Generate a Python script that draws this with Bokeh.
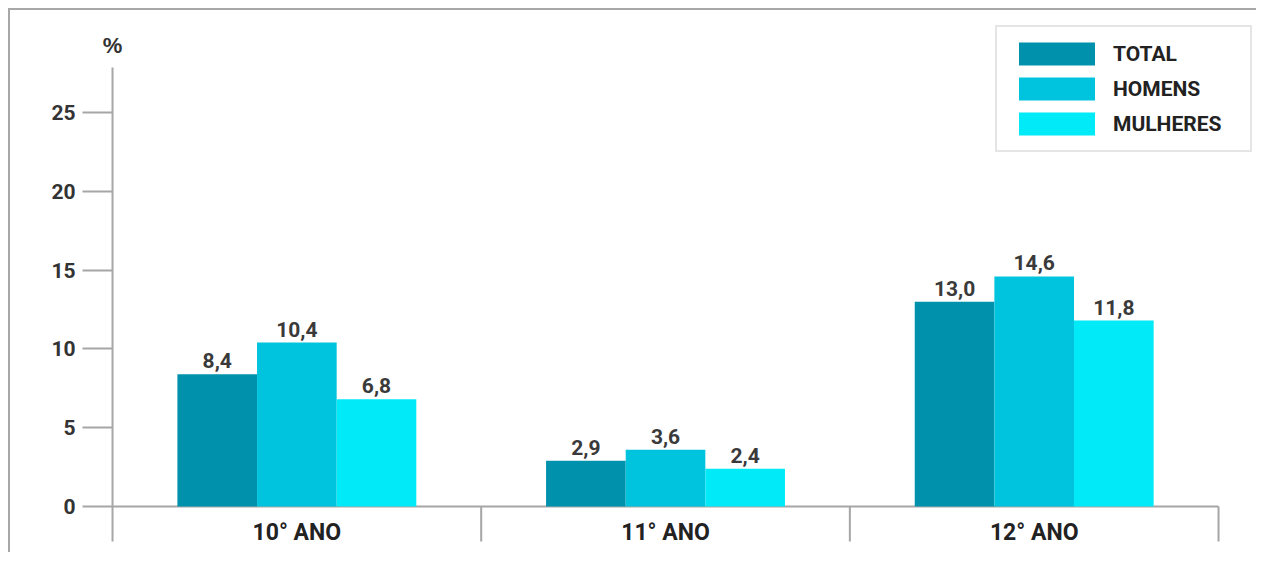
from bokeh.plotting import figure
from bokeh.models import Range1d, FixedTicker, ColumnDataSource
from bokeh.embed import file_html
from bokeh.resources import INLINE
from bokeh.core.properties import value

categories = ["10° ANO", "11° ANO", "12° ANO"]
series = ["TOTAL", "HOMENS", "MULHERES"]
total = [8.4, 2.9, 13.0]
homens = [10.4, 3.6, 14.6]
mulheres = [6.8, 2.4, 11.8]
y_ticks = [0, 5, 10, 15, 20, 25]
y_unit = "%"

colors = ["#0092AC", "#00C4DE", "#00EAF7"]
FONT = "Roboto"
AXIS_COLOR = "#a6a6a6"
Y_AXIS_TOP = 27.86
SEP_BOTTOM = -2.22

p = figure(width=1248, height=544, output_backend="svg", toolbar_location=None, tools="",
           x_range=Range1d(-0.0326, 3.103), y_range=Range1d(-2.665, 31.35),
           min_border_left=90, min_border_top=2, min_border_bottom=6, min_border_right=2,
           x_axis_location=None)
p.styles = {"border-top": "2px solid #a8a8a8", "border-left": "2px solid #a8a8a8",
            "margin-top": "8px", "margin-left": "8px"}
p.outline_line_color = None
p.grid.grid_line_color = None
p.background_fill_color = "white"
p.border_fill_color = "white"

ax = p.yaxis[0]
ax.ticker = FixedTicker(ticks=y_ticks)
ax.major_tick_out = 18
ax.major_tick_in = 12
ax.minor_tick_out = 0
ax.minor_tick_in = 0
ax.axis_line_color = None
ax.major_tick_line_color = AXIS_COLOR
ax.major_tick_line_width = 2
ax.major_label_standoff = 7
ax.major_label_text_font = FONT
ax.major_label_text_font_style = "bold"
ax.major_label_text_font_size = "21px"
ax.major_label_text_color = "#333333"

n = len(categories)
# y axis line (extends down to the separator length)
p.segment(x0=[0], y0=[SEP_BOTTOM], x1=[0], y1=[Y_AXIS_TOP], line_color=AXIS_COLOR, line_width=2)
# x axis baseline and category separators
p.segment(x0=[0], y0=[0], x1=[n], y1=[0], line_color=AXIS_COLOR, line_width=2)
p.segment(x0=list(range(1, n + 1)), y0=[0] * n, x1=list(range(1, n + 1)), y1=[SEP_BOTTOM] * n,
          line_color=AXIS_COLOR, line_width=2)

offsets = [-0.216, 0.0, 0.216]
for name, vals, col, off in zip(series, [total, homens, mulheres], colors, offsets):
    xs = [i + 0.5 + off for i in range(n)]
    src = ColumnDataSource(dict(x=xs, top=vals,
                                lab=[f"{v:.1f}".replace(".", ",") for v in vals]))
    p.vbar(x="x", top="top", width=0.216, source=src, fill_color=col, line_color=None,
           legend_label=name)
    p.text(x="x", y="top", text="lab", source=src, text_align="center",
           text_baseline="bottom", y_offset=-6, text_font=value(FONT),
           text_font_style="bold", text_font_size="21px", text_color="#3a3a3a")

p.text(x=[i + 0.5 for i in range(n)], y=[-1.68] * n, text=categories, text_align="center",
       text_baseline="middle", text_font=value(FONT), text_font_style="bold",
       text_font_size="23px", text_color="#222222")

p.text(x=[0], y=[29.25], text=[y_unit], text_align="center", text_baseline="middle",
       text_font=value("Liberation Sans"), text_font_style="bold", text_font_size="22px",
       text_color="#333333")

lg = p.legend[0]
lg.location = (895, 396)
lg.glyph_width = 95
lg.glyph_height = 29
lg.label_standoff = 9
lg.label_width = 125
lg.spacing = 6
lg.padding = 12
lg.margin = 0
lg.border_line_color = "#cccccc"
lg.border_line_width = 2
lg.background_fill_alpha = 1
lg.label_text_font = FONT
lg.label_text_font_style = "bold"
lg.label_text_font_size = "21px"
lg.label_text_color = "#222222"

open("out.html", "w").write(file_html(p, INLINE))
